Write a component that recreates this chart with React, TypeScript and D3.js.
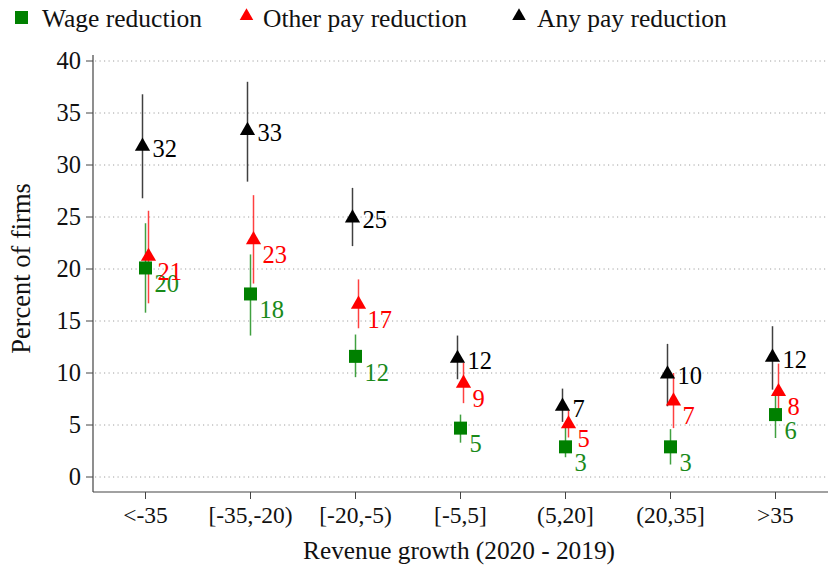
import React from "react";
import * as d3 from "d3";

const categories = ["<-35", "[-35,-20)", "[-20,-5)", "[-5,5]", "(5,20]", "(20,35]", ">35"];
const yTicks = [0, 5, 10, 15, 20, 25, 30, 35, 40];

const wage = [20.1, 17.6, 11.6, 4.7, 2.9, 2.9, 6.0];
const wageLo = [15.8, 13.6, 9.6, 3.3, 1.9, 1.2, 3.75];
const wageHi = [24.4, 21.4, 13.7, 6.0, 4.8, 4.6, 7.9];

const other = [21.3, 22.9, 16.7, 9.1, 5.2, 7.4, 8.3];
const otherLo = [16.7, 18.6, 14.3, 7.1, 3.8, 4.7, 5.5];
const otherHi = [25.6, 27.1, 19.0, 11.0, 6.4, 10.0, 10.9];

const anyPay = [31.9, 33.4, 25.0, 11.5, 6.9, 10.0, 11.6];
const anyLo = [26.8, 28.4, 22.2, 9.4, 5.3, 6.8, 8.4];
const anyHi = [36.8, 38.0, 27.8, 13.6, 8.5, 12.8, 14.5];

const seriesNames = ["Wage reduction", "Other pay reduction", "Any pay reduction"];

const W = 828;
const H = 567;
const FONT = '"Liberation Serif", "DejaVu Serif", "Times New Roman", serif';

export default function App() {
  const x = d3.scaleBand<string>().domain(categories).range([93, 828]).padding(0);
  const y = d3.scaleLinear().domain([0, 40]).range([477, 61]);
  const cx = (c: string) => (x(c) as number) + x.bandwidth() / 2;

  const series = [
    { name: seriesNames[0], v: wage, lo: wageLo, hi: wageHi, color: "#008000", shape: "square", dx: 0, lab: "below" },
    { name: seriesNames[1], v: other, lo: otherLo, hi: otherHi, color: "#ff0000", shape: "tri", dx: 3, lab: "below" },
    { name: seriesNames[2], v: anyPay, lo: anyLo, hi: anyHi, color: "#000000", shape: "tri", dx: -3, lab: "right" },
  ];

  const sym = d3.symbol().type(d3.symbolTriangle).size(100)() as string;
  const symLeg = d3.symbol().type(d3.symbolTriangle).size(80)() as string;

  return (
    <svg width={W} height={H} style={{ position: "absolute", left: 0, top: 0, background: "#fff", fontFamily: FONT }}>
      <rect width={W} height={H} fill="#fff" />
      {yTicks.map((t) => (
        <line key={"g" + t} x1={95} x2={828} y1={y(t)} y2={y(t)} stroke="#a0a0a0" strokeWidth={1} strokeDasharray="1.2 3.3" />
      ))}
      <line x1={93} x2={93} y1={55} y2={492} stroke="#444" strokeWidth={1.2} />
      {yTicks.map((t) => (
        <g key={"yt" + t}>
          <line x1={86} x2={93} y1={y(t)} y2={y(t)} stroke="#444" strokeWidth={1} />
          <text x={81} y={y(t)} dy="0.34em" textAnchor="end" fontSize={24.5} fill="#111">{t}</text>
        </g>
      ))}
      <text transform={`translate(30,${(185 + 352) / 2}) rotate(-90)`} textAnchor="middle" fontSize={26.5} fill="#111">Percent of firms</text>
      <line x1={93} x2={828} y1={492} y2={492} stroke="#444" strokeWidth={1.2} />
      {categories.map((c) => (
        <g key={"xt" + c}>
          <line x1={cx(c)} x2={cx(c)} y1={492} y2={499} stroke="#444" strokeWidth={1} />
          <text x={cx(c)} y={515} dy="0.34em" textAnchor="middle" fontSize={23.5} fill="#111">{c}</text>
        </g>
      ))}
      <text x={459} y={550} dy="0.34em" textAnchor="middle" fontSize={25.3} fill="#111">Revenue growth (2020 - 2019)</text>

      {series.map((s) =>
        categories.map((c, i) => (
          <line key={s.name + "ci" + i} x1={cx(c) + s.dx} x2={cx(c) + s.dx} y1={y(s.lo[i])} y2={y(s.hi[i])} stroke={s.color} strokeWidth={1.5} strokeOpacity={0.75} />
        ))
      )}
      {series.map((s) =>
        categories.map((c, i) => {
          const px = cx(c) + s.dx;
          const py = y(s.v[i]);
          return s.shape === "square" ? (
            <rect key={s.name + "m" + i} x={px - 6.5} y={py - 6.5} width={13} height={13} fill={s.color} />
          ) : (
            <path key={s.name + "m" + i} d={sym} transform={`translate(${px},${py + 1})`} fill={s.color} />
          );
        })
      )}
      {series.map((s) =>
        categories.map((c, i) => {
          const px = cx(c) + s.dx;
          const py = y(s.v[i]);
          const lx = s.lab === "right" ? px + 10 : px + 9;
          const ly = s.lab === "right" ? py + 3 : py + 16;
          return (
            <text key={s.name + "l" + i} x={lx} y={ly} dy="0.34em" fontSize={24.5} fill={s.color === "#008000" ? "#1a8a1a" : s.color}>
              {Math.round(s.v[i])}
            </text>
          );
        })
      )}

      <rect x={15} y={11} width={13} height={13} fill="#008000" />
      <text x={42} y={27} fontSize={25.5} fill="#111">{seriesNames[0]}</text>
      <path d={symLeg} transform={`translate(246.5,16)`} fill="#ff0000" />
      <text x={263} y={27} fontSize={25.5} fill="#111">{seriesNames[1]}</text>
      <path d={symLeg} transform={`translate(519,16)`} fill="#000" />
      <text x={537} y={27} fontSize={25.5} fill="#111">{seriesNames[2]}</text>
    </svg>
  );
}
